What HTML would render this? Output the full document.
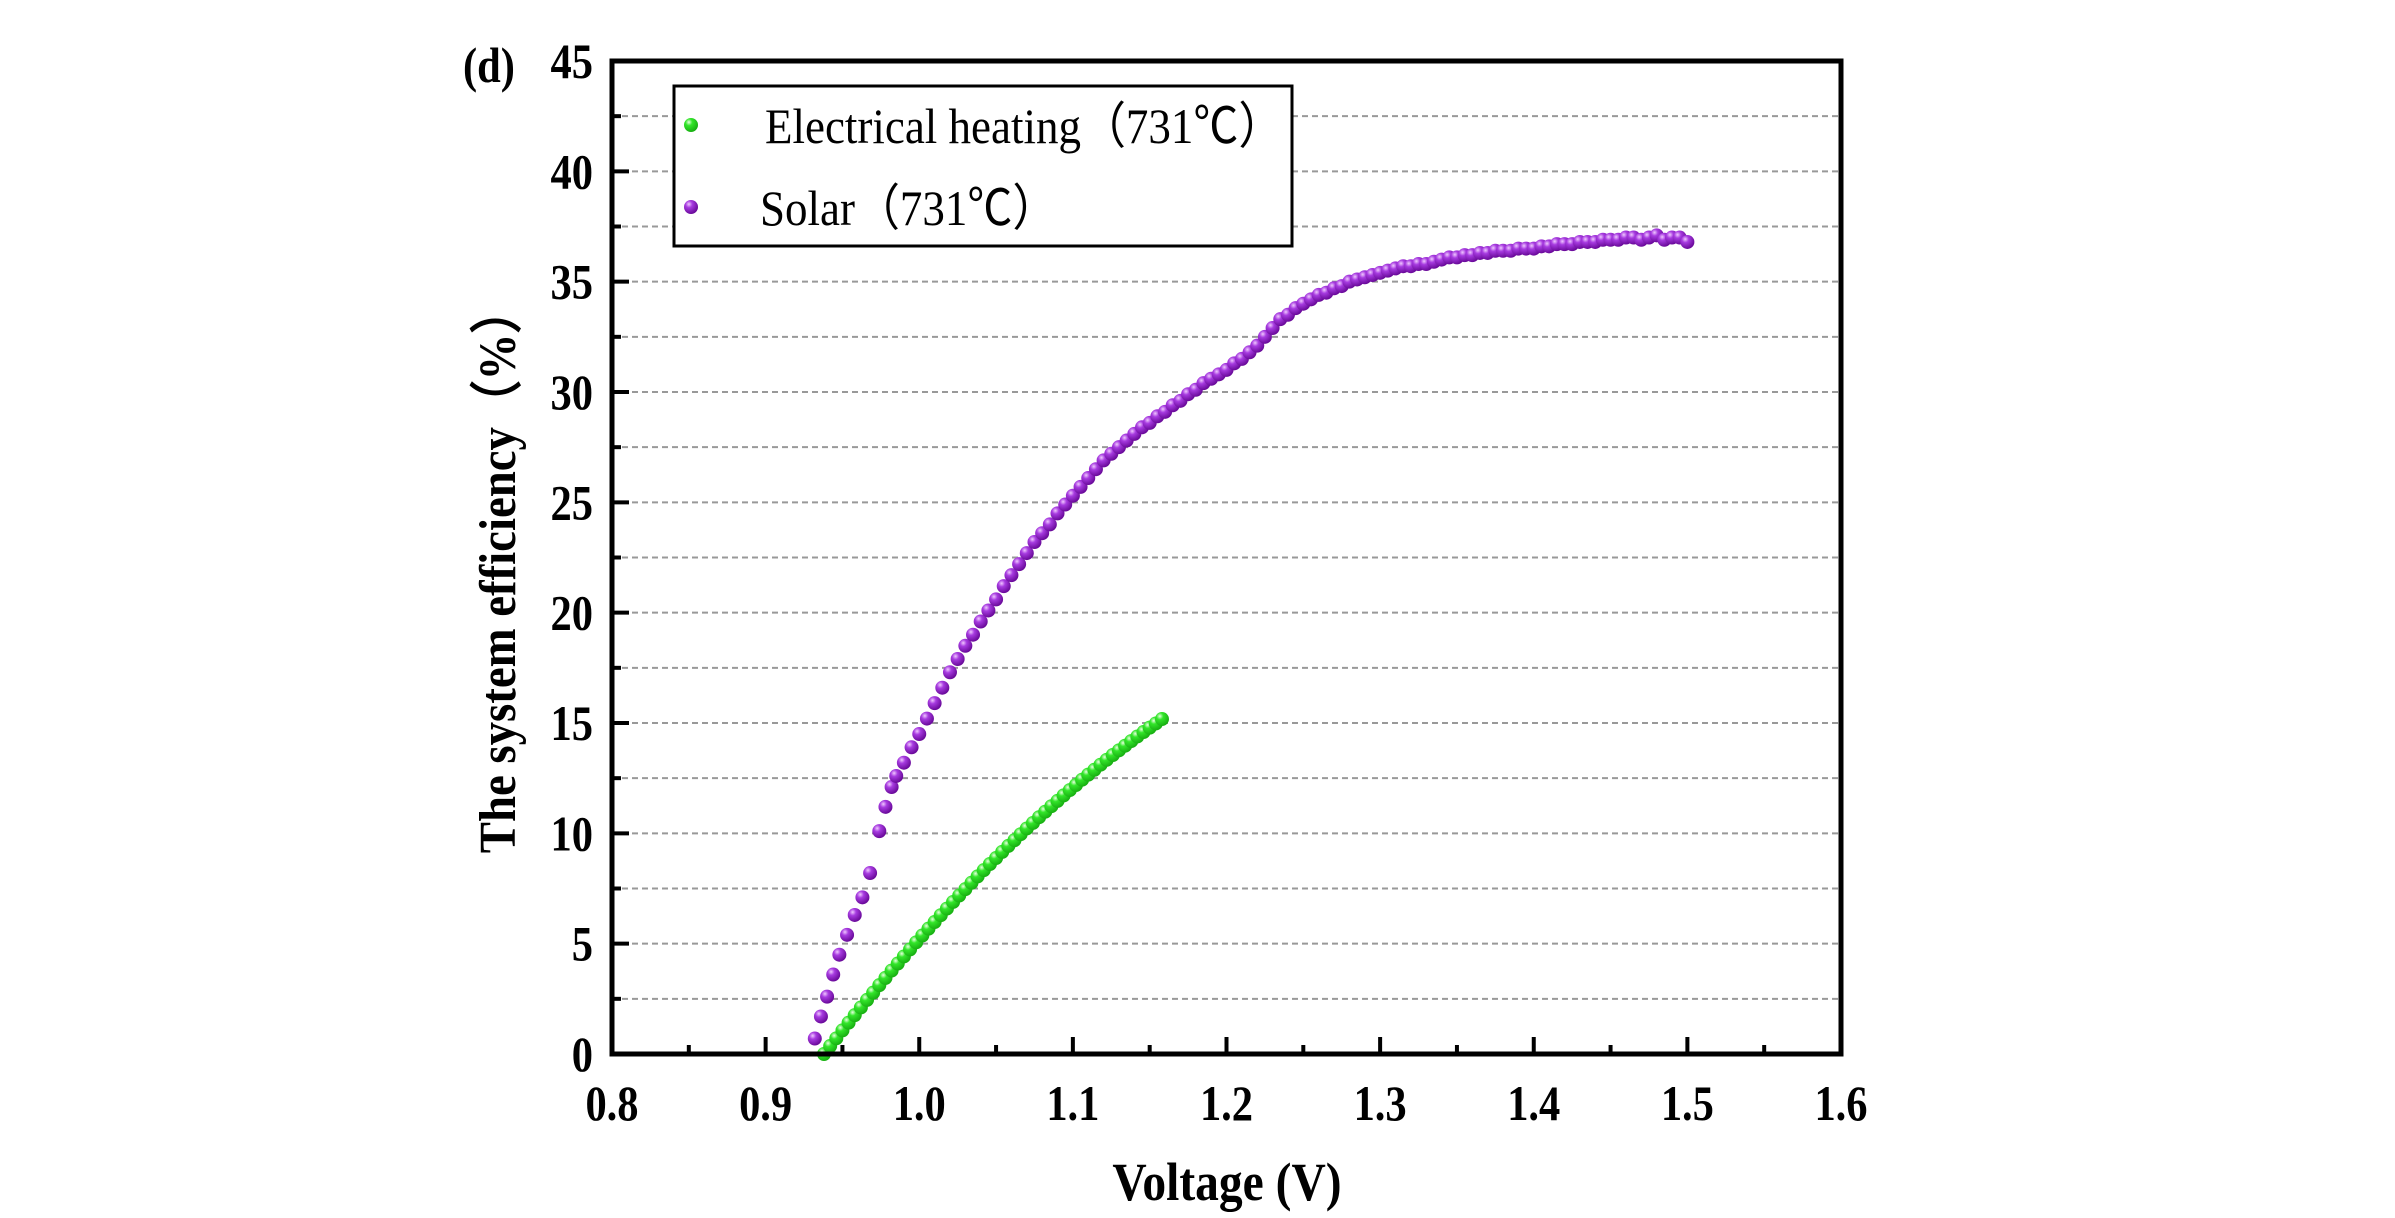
<!DOCTYPE html>
<html><head><meta charset="utf-8"><style>
html,body{margin:0;padding:0;background:#fff;}
svg{display:block;}
text{font-family:"Liberation Serif",serif;}
</style></head><body>
<svg id="chart" width="2395" height="1218" viewBox="0 0 2395 1218" xmlns="http://www.w3.org/2000/svg">
<defs>
<radialGradient id="gp" cx="0.35" cy="0.3" r="0.7"><stop offset="0" stop-color="#f0c8ff"/><stop offset="0.35" stop-color="#a73be0"/><stop offset="1" stop-color="#6a0a9a"/></radialGradient>
<radialGradient id="gg" cx="0.35" cy="0.3" r="0.7"><stop offset="0" stop-color="#e8ffe0"/><stop offset="0.35" stop-color="#33e62a"/><stop offset="1" stop-color="#18b012"/></radialGradient>
</defs>
<g id="grid"></g>
<g id="marks"></g>
<g id="axes"></g>
<text transform="translate(463,82) scale(0.85,1)" font-size="50" font-weight="bold">(d)</text>
<text transform="translate(1227,1200) scale(0.88,1)" font-size="54" font-weight="bold" text-anchor="middle">Voltage (V)</text>
<text transform="translate(515,570) rotate(-90) scale(0.9,1)" font-size="52" font-weight="bold" text-anchor="middle">The system efficiency（%）</text>
<g>
<rect x="674" y="86" width="618" height="160" fill="#fff" stroke="#000" stroke-width="3"/>
<circle cx="691" cy="125" r="7" fill="url(#gg)"/>
<text transform="translate(765,143) scale(0.9,1)" font-size="50">Electrical heating（731℃）</text>
<circle cx="691" cy="207" r="7" fill="url(#gp)"/>
<text transform="translate(760,225) scale(0.9,1)" font-size="50">Solar（731℃）</text>
</g>
</svg>
<script>
const xTicks=[0.8,0.9,1.0,1.1,1.2,1.3,1.4,1.5,1.6];
const xTickLabels=["0.8","0.9","1.0","1.1","1.2","1.3","1.4","1.5","1.6"];
const yTicks=[0,5,10,15,20,25,30,35,40,45];
const yTickLabels=["0","5","10","15","20","25","30","35","40","45"];
const elecV=[0.938,0.942,0.946,0.950,0.954,0.958,0.962,0.966,0.970,0.974,0.978,0.982,0.986,0.990,0.994,0.998,1.002,1.006,1.010,1.014,1.018,1.022,1.026,1.030,1.034,1.038,1.042,1.046,1.050,1.054,1.058,1.062,1.066,1.070,1.074,1.078,1.082,1.086,1.090,1.094,1.098,1.102,1.106,1.110,1.114,1.118,1.122,1.126,1.130,1.134,1.138,1.142,1.146,1.150,1.154,1.158];
const elecEff=[0,0.36,0.71,1.07,1.42,1.76,2.11,2.45,2.78,3.12,3.45,3.78,4.10,4.42,4.74,5.06,5.37,5.68,5.98,6.29,6.59,6.89,7.18,7.47,7.76,8.05,8.33,8.61,8.88,9.16,9.43,9.69,9.96,10.22,10.47,10.73,10.98,11.23,11.47,11.72,11.96,12.19,12.43,12.66,12.88,13.11,13.33,13.55,13.76,13.97,14.18,14.39,14.59,14.79,14.98,15.18];
const solarV=[0.932,0.936,0.940,0.944,0.948,0.953,0.958,0.963,0.968,0.974,0.978,0.982,0.985,0.990,0.995,1.000,1.005,1.010,1.015,1.020,1.025,1.030,1.035,1.040,1.045,1.050,1.055,1.060,1.065,1.070,1.075,1.080,1.085,1.090,1.095,1.100,1.105,1.110,1.115,1.120,1.125,1.130,1.135,1.140,1.145,1.150,1.155,1.160,1.165,1.170,1.175,1.180,1.185,1.190,1.195,1.200,1.205,1.210,1.215,1.220,1.225,1.230,1.235,1.240,1.245,1.250,1.255,1.260,1.265,1.270,1.275,1.280,1.285,1.290,1.295,1.300,1.305,1.310,1.315,1.320,1.325,1.330,1.335,1.340,1.345,1.350,1.355,1.360,1.365,1.370,1.375,1.380,1.385,1.390,1.395,1.400,1.405,1.410,1.415,1.420,1.425,1.430,1.435,1.440,1.445,1.450,1.455,1.460,1.465,1.470,1.475,1.480,1.485,1.490,1.495,1.500];
const solarEff=[0.7,1.7,2.6,3.6,4.5,5.4,6.3,7.1,8.2,10.1,11.2,12.1,12.6,13.2,13.9,14.5,15.2,15.9,16.6,17.3,17.9,18.5,19.0,19.6,20.1,20.6,21.2,21.7,22.2,22.7,23.2,23.6,24.0,24.5,24.9,25.3,25.7,26.1,26.5,26.9,27.2,27.5,27.8,28.1,28.4,28.6,28.9,29.1,29.4,29.6,29.9,30.1,30.4,30.6,30.8,31.0,31.3,31.5,31.8,32.1,32.5,32.9,33.3,33.5,33.8,34.0,34.2,34.4,34.5,34.7,34.8,35.0,35.1,35.2,35.3,35.4,35.5,35.6,35.7,35.7,35.8,35.8,35.9,36.0,36.1,36.1,36.2,36.2,36.3,36.3,36.4,36.4,36.4,36.5,36.5,36.5,36.6,36.6,36.7,36.7,36.7,36.8,36.8,36.8,36.9,36.9,36.9,37.0,37.0,36.9,37.0,37.1,36.9,37.0,37.0,36.8];
const NS="http://www.w3.org/2000/svg";
const L=612,R=1841,T=61,B=1054;
const xMin=0.8,xMax=1.6,yMin=0,yMax=45;
function xs(v){return L+(v-xMin)/(xMax-xMin)*(R-L);}
function ys(v){return B-(v-yMin)/(yMax-yMin)*(B-T);}
function mk(tag,attrs,parent){const e=document.createElementNS(NS,tag);for(const k in attrs)e.setAttribute(k,attrs[k]);parent.appendChild(e);return e;}
const grid=document.getElementById('grid'),axes=document.getElementById('axes'),marks=document.getElementById('marks');
for(let i=1;i<yTicks.length*2-2;i++){
  const v=yMin+i*(yTicks[1]-yTicks[0])/2;
  const g=mk('line',{x1:L,x2:R,y1:ys(v),y2:ys(v),stroke:'#999',"stroke-width":2,"stroke-dasharray":"6 4"},grid);
  
  
}
elecV.forEach((v,i)=>{
  const c=mk('circle',{cx:xs(v),cy:ys(elecEff[i]),r:7,fill:'url(#gg)'},marks);
  
  
});
solarV.forEach((v,i)=>{
  const c=mk('circle',{cx:xs(v),cy:ys(solarEff[i]),r:7,fill:'url(#gp)'},marks);
  
  
});
const fr=mk('rect',{x:L,y:T,width:R-L,height:B-T,fill:'none',stroke:'#000','stroke-width':5},axes);


xTicks.forEach((v,i)=>{
  const t=mk('line',{x1:xs(v),x2:xs(v),y1:B,y2:B-17,stroke:'#000','stroke-width':4},axes);
  
  
  if(i<xTicks.length-1){
    const m=mk('line',{x1:xs(v+0.05),x2:xs(v+0.05),y1:B,y2:B-9,stroke:'#000','stroke-width':4},axes);
    
    
  }
  const lb=mk('text',{transform:'translate('+xs(v)+',1120) scale(0.85,1)','font-size':50,'font-weight':'bold','text-anchor':'middle'},axes);
  lb.textContent=xTickLabels[i];
  
  
});
yTicks.forEach((v,i)=>{
  const t=mk('line',{x1:L,x2:L+17,y1:ys(v),y2:ys(v),stroke:'#000','stroke-width':4},axes);
  
  
  if(i<yTicks.length-1){
    const m=mk('line',{x1:L,x2:L+9,y1:ys(v+2.5),y2:ys(v+2.5),stroke:'#000','stroke-width':4},axes);
    
    
  }
  const lb=mk('text',{transform:'translate(593,'+(ys(v)+17)+') scale(0.85,1)','font-size':50,'font-weight':'bold','text-anchor':'end'},axes);
  lb.textContent=yTickLabels[i];
  
  
});
</script>
</body></html>
